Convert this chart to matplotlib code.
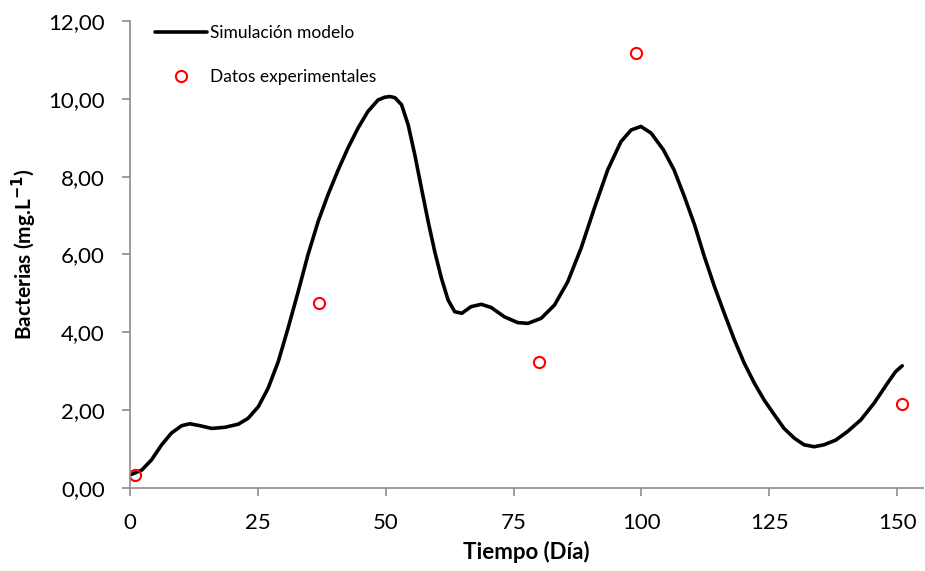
import matplotlib
matplotlib.use("Agg")
import matplotlib.pyplot as plt
from matplotlib.ticker import FuncFormatter

plt.rcParams['font.family'] = ['Lato', 'DejaVu Sans']

# curva del modelo
sim_t = [0.3, 2.3, 4.2, 6.2, 8.1, 10.1, 11.7, 13.7, 16.0, 18.6, 21.2, 23.1, 25.1, 27.0,
         29.0, 30.9, 32.9, 34.8, 36.8, 38.7, 40.7, 42.6, 44.6, 46.5, 48.5, 49.8, 50.8,
         51.8, 53.1, 54.4, 55.7, 57.0, 58.3, 59.6, 60.9, 62.2, 63.5, 64.9, 66.7, 68.7,
         70.6, 73.2, 75.8, 77.8, 80.4, 83.0, 85.6, 88.2, 90.8, 93.4, 96.0, 98.0, 99.9,
         101.9, 104.3, 106.4, 108.4, 110.4, 112.3, 114.3, 116.2, 118.2, 120.1, 122.1,
         124.0, 126.0, 127.9, 129.9, 131.8, 133.8, 135.7, 138.0, 140.3, 142.9, 145.5,
         148.1, 149.7, 151.0]
sim_y = [0.35, 0.46, 0.72, 1.11, 1.41, 1.60, 1.65, 1.60, 1.53, 1.56, 1.64, 1.79, 2.09, 2.56,
         3.25, 4.10, 5.05, 5.99, 6.85, 7.53, 8.17, 8.73, 9.25, 9.67, 9.97, 10.04, 10.06,
         10.03, 9.85, 9.33, 8.56, 7.70, 6.85, 6.07, 5.39, 4.83, 4.53, 4.49, 4.66, 4.72,
         4.64, 4.40, 4.25, 4.23, 4.36, 4.70, 5.30, 6.16, 7.19, 8.17, 8.90, 9.20, 9.29,
         9.12, 8.69, 8.17, 7.49, 6.76, 5.95, 5.17, 4.49, 3.80, 3.21, 2.69,
         2.26, 1.88, 1.53, 1.28, 1.11, 1.06, 1.11, 1.23, 1.45, 1.75, 2.18,
         2.69, 2.99, 3.14]

# datos experimentales
exp_t = [1, 37, 80, 99, 151]
exp_y = [0.33, 4.76, 3.25, 11.18, 2.16]

fig = plt.figure(figsize=(9.25, 5.71), dpi=100)
ax = fig.add_axes([0.1405, 0.1454, 0.857, 0.8178])

ax.plot(sim_t, sim_y, '-', color='black', lw=2.6, label='Simulación modelo',
        solid_capstyle='round', solid_joinstyle='round')
ax.plot(exp_t, exp_y, 'o', mfc='none', mec='red', ms=8, mew=1.5, ls='none',
        label='Datos experimentales')

ax.set_xlim(0, 155)
ax.set_ylim(0, 12)
ax.set_xticks([0, 25, 50, 75, 100, 125, 150])
ax.set_yticks([0, 2, 4, 6, 8, 10, 12])
ax.yaxis.set_major_formatter(FuncFormatter(lambda v, p: f"{v:.2f}".replace('.', ',')))

for s in ['top', 'right']:
    ax.spines[s].set_visible(False)
for s in ['left', 'bottom']:
    ax.spines[s].set_color('#8c8c8c')
    ax.spines[s].set_linewidth(1.2)
ax.tick_params(direction='out', length=6, width=1.2, color='#8c8c8c', labelsize=16, pad=12)

ax.set_xlabel('Tiempo (Día)', fontsize=16, fontweight='bold', labelpad=6)
ax.set_ylabel(r'Bacterias (mg.L$^{\mathbf{-1}}$)', fontsize=15, fontweight='bold', labelpad=7)

ax.legend(loc='upper left', bbox_to_anchor=(0.012, 1.025), frameon=False, fontsize=12.5,
          handlelength=3.0, handletextpad=0.15, labelspacing=1.6)

plt.savefig('out.png', dpi=100)
